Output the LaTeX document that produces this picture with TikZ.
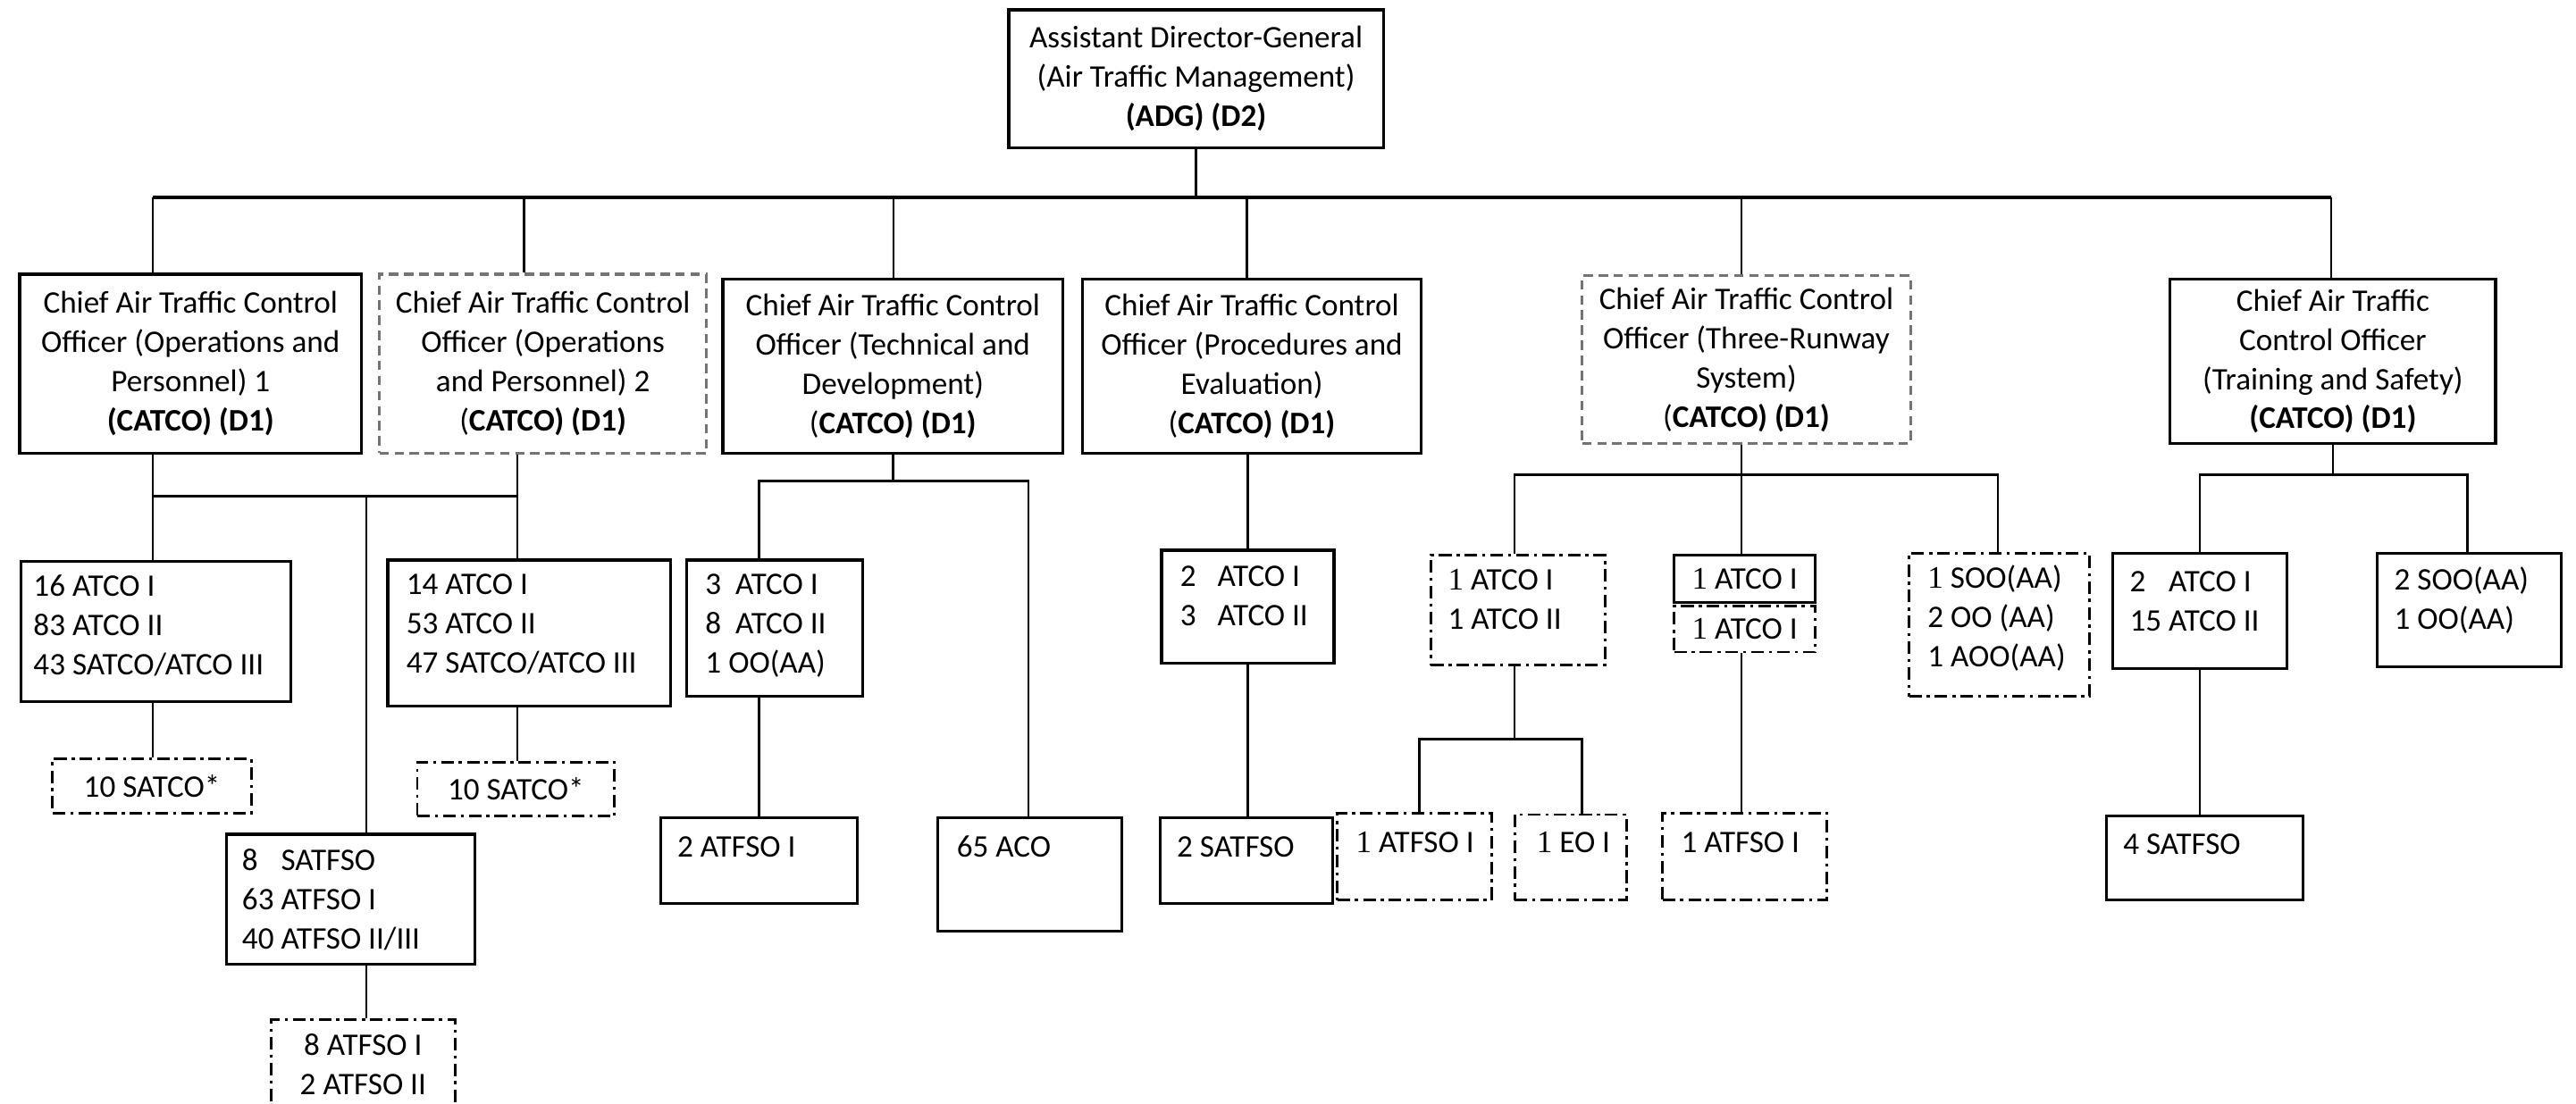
\documentclass[tikz,border=0pt]{standalone}
\usepackage{fontspec}
\setmainfont{Carlito}
\newfontfamily\serifone{Liberation Serif}
\newcommand\sone{{\serifone 1}}
\usetikzlibrary{calc}
\newcommand\orgbox[7]{\node[#2, minimum width={(#5-#3)*0.018386cm}, minimum height={(#6-#4)*0.018386cm}] (#1) at ({(#3+#5)/2},{(#4+#6)/2}) {#7};}
\begin{document}
\begin{tikzpicture}[x=0.018386cm,y=-0.018386cm,
  every node/.style={font=\fontsize{10}{12.5}\selectfont, inner sep=0pt},
  solidbox/.style={draw, line width=0.9pt},
  grayd/.style={draw=black!55, line width=0.9pt, dash pattern=on 3pt off 1.8pt},
  dd/.style={draw, line width=0.8pt, dash pattern=on 4pt off 1.6pt on 1pt off 1.6pt},
  conn/.style={line width=0.7pt},
  busline/.style={line width=1.2pt},
  txt/.style={anchor=base west, align=left},
  ttl/.style={align=center}]
\useasboundingbox (0,0) rectangle (1568,672);
\clip (0,0) rectangle (1568,672);
\fill[white] (0,0) rectangle (1568,672);

% top
\orgbox{adg}{solidbox,ttl}{614}{6}{842}{90}{Assistant Director-General\\(Air Traffic Management)\\\textbf{(ADG) (D2)}}
\coordinate (busL) at (93,120);
\coordinate (busR) at (1419,120);
\coordinate (d2) at (319,120);
\coordinate (d3) at (544,120);
\coordinate (d4) at (759,120);
\coordinate (d5) at (1060,120);
\draw[busline] (busL) -- (busR);
\draw[conn] (adg.south) -- (adg.south |- busL);

% row 1
\orgbox{b1}{solidbox,ttl}{12}{167}{220}{276}{Chief Air Traffic Control\\Officer (Operations and\\Personnel) 1\\\textbf{(CATCO) (D1)}}
\orgbox{b2}{grayd,ttl}{231}{167}{430}{276}{Chief Air Traffic Control\\Officer (Operations\\and Personnel) 2\\(\textbf{CATCO) (D1)}}
\orgbox{b3}{solidbox,ttl}{440}{170}{647}{276}{Chief Air Traffic Control\\Officer (Technical and\\Development)\\(\textbf{CATCO) (D1)}}
\orgbox{b4}{solidbox,ttl}{659}{170}{865}{276}{Chief Air Traffic Control\\Officer (Procedures and\\Evaluation)\\(\textbf{CATCO) (D1)}}
\orgbox{b5}{grayd,ttl}{963}{168}{1163}{270}{Chief Air Traffic Control\\Officer (Three-Runway\\System)\\(\textbf{CATCO) (D1)}}
\orgbox{b6}{solidbox,ttl}{1321}{170}{1519}{270}{Chief Air Traffic\\Control Officer\\(Training and Safety)\\\textbf{(CATCO) (D1)}}

\draw[conn] (busL) -- (busL |- b1.north);
\draw[conn] (d2) -- (d2 |- b2.north);
\draw[conn] (d3) -- (d3 |- b3.north);
\draw[conn] (d4) -- (d4 |- b4.north);
\draw[conn] (d5) -- (d5 |- b5.north);
\draw[conn] (busR) -- (busR |- b6.north);

% branch under b1 / b2
\orgbox{c1}{solidbox}{13}{342}{177}{427}{}
\node[txt] (c1t) at (20,411) {16 ATCO I\\83 ATCO II\\43 SATCO/ATCO III};
\orgbox{s1}{dd}{32}{462}{153}{495}{10 SATCO*}
\orgbox{c2}{solidbox}{236}{341}{408}{430}{}
\node[txt] (c2t) at (247,410) {14 ATCO I\\53 ATCO II\\47 SATCO/ATCO III};
\orgbox{s2}{dd}{254}{464}{374}{497}{10 SATCO*}
\orgbox{e}{solidbox}{138}{508}{289}{587}{}
\node[txt] (et) at (147,578) {8\phantom{3} SATFSO\\63 ATFSO I\\40 ATFSO II/III};
\orgbox{f}{dd}{165}{621}{277}{700}{}
\node[ttl] (ft) at (221,648) {8 ATFSO I\\2 ATFSO II};

\coordinate (j1) at (93,302);
\coordinate (j2) at (315,302);
\coordinate (j3) at (223,302);
\draw[conn] (j1 |- b1.south) -- (j1) -- (j2) -- (j2 |- b2.south);
\draw[conn] (j1) -- (j1 |- c1.north);
\draw[conn] (j2) -- (j2 |- c2.north);
\draw[conn] (j3) -- (j3 |- e.north);
\draw[conn] (j1 |- c1.south) -- (j1 |- s1.north);
\draw[conn] (j2 |- c2.south) -- (j2 |- s2.north);
\draw[conn] (j3 |- e.south) -- (j3 |- f.north);

% branch under b3
\orgbox{g}{solidbox}{418}{341}{525}{424}{}
\node[txt] (gt) at (429,410) {3\ \ ATCO I\\8\ \ ATCO II\\1 OO(AA)};
\orgbox{i}{solidbox}{402}{498}{522}{550}{}
\node[txt] (it) at (412,522) {2 ATFSO I};
\orgbox{h}{solidbox}{571}{498}{683}{567}{}
\node[txt] (ht) at (582,522) {65 ACO};
\coordinate (k1) at (462,293);
\coordinate (k2) at (626,293);
\draw[conn] (b3.south) -- (b3.south |- k1);
\draw[conn] (k1 |- g.north) -- (k1) -- (k2) -- (k2 |- h.north);
\draw[conn] (k1 |- g.south) -- (k1 |- i.north);

% branch under b4
\orgbox{jb}{solidbox}{707}{335}{812}{404}{}
\node[txt] (jt) at (718,381) {2\ \ \ ATCO I\\3\ \ \ ATCO II};
\orgbox{kb}{solidbox}{706}{498}{811}{550}{}
\node[txt] (kt) at (716,522) {2 SATFSO};
\draw[conn] (jb.north |- b4.south) -- (jb.north);
\draw[conn] (jb.south) -- (jb.south |- kb.north);

% branch under b5
\orgbox{lb}{dd}{871}{338}{977}{405}{}
\node[txt] (lt) at (881,383) {\sone{} ATCO I\\1 ATCO II};
\orgbox{ob}{dd}{814}{495}{908}{548}{}
\node[txt] (ot) at (825,519) {\sone{} ATFSO I};
\orgbox{pb}{dd}{922}{496}{990}{548}{}
\node[txt] (pt) at (935,519) {\sone{} EO I};
\orgbox{m1}{solidbox}{1019}{338}{1105}{367}{\sone{} ATCO I}
\orgbox{m2}{dd}{1019}{369}{1105}{397}{\sone{} ATCO I}
\orgbox{qb}{dd}{1012}{495}{1112}{548}{}
\node[txt] (qt) at (1023,519) {1 ATFSO I};
\orgbox{nb}{dd}{1162}{337}{1272}{424}{}
\node[txt] (nt) at (1173,406) {\sone{} SOO(AA)\\2 OO (AA)\\1 AOO(AA)};
\coordinate (m0) at (1060,289);
\coordinate (mL) at (922,289);
\coordinate (mR) at (1216,289);
\draw[conn] (m0 |- b5.south) -- (m0);
\draw[conn] (mL |- lb.north) -- (mL) -- (mR) -- (mR |- nb.north);
\draw[conn] (m0) -- (m0 |- m1.north);
\coordinate (n0) at (922,450);
\coordinate (nL) at (864,450);
\coordinate (nR) at (963,450);
\draw[conn] (n0 |- lb.south) -- (n0);
\draw[conn] (nL |- ob.north) -- (nL) -- (nR) -- (nR |- pb.north);
\draw[conn] (m0 |- m2.south) -- (m0 |- qb.north);

% branch under b6
\orgbox{rb}{solidbox}{1286}{337}{1392}{407}{}
\node[txt] (rt) at (1296,384) {2\phantom{5} ATCO I\\15 ATCO II};
\orgbox{tb}{solidbox}{1282}{497}{1402}{548}{}
\node[txt] (tt) at (1292,520) {4 SATFSO};
\orgbox{sb}{solidbox}{1447}{337}{1559}{406}{}
\node[txt] (st) at (1457,383) {2 SOO(AA)\\1 OO(AA)};
\coordinate (r0) at (1420,289);
\coordinate (rL) at (1339,289);
\coordinate (rR) at (1502,289);
\draw[conn] (b6.south) -- (b6.south |- r0);
\draw[conn] (rL |- rb.north) -- (rL) -- (rR) -- (rR |- sb.north);
\draw[conn] (rL |- rb.south) -- (rL |- tb.north);
\end{tikzpicture}
\end{document}
